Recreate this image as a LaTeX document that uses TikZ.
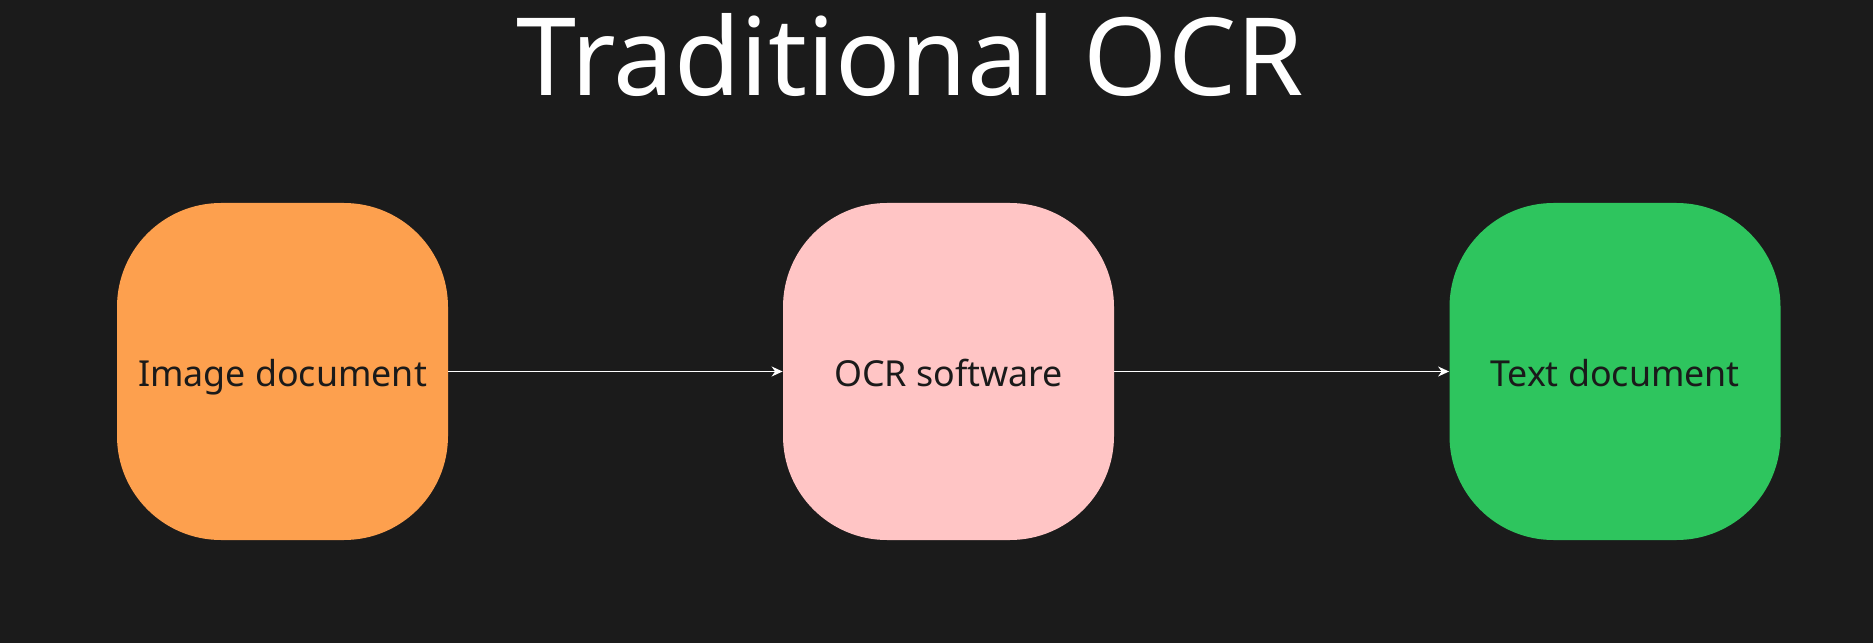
\documentclass[tikz,border=0pt]{standalone}
\usepackage{fontspec}
\setmainfont{Noto Sans}
\usetikzlibrary{arrows.meta}
\definecolor{bg}{HTML}{1B1B1B}
\definecolor{boxorange}{HTML}{FDA04E}
\definecolor{boxpink}{HTML}{FFC5C5}
\definecolor{boxgreen}{HTML}{2EC55E}
\definecolor{ink}{HTML}{1A1A1A}
\begin{document}
\begin{tikzpicture}[x=1pt,y=1pt,
  stagebox/.style={rounded corners=52pt, minimum width=165.5pt, minimum height=168.5pt,
    inner sep=0pt, text=ink, text height=15pt, text depth=0pt,
    font=\fontsize{17.9pt}{21pt}\selectfont},
  flow/.style={draw=white, line width=0.75pt, -{Stealth[length=5.5pt,width=5pt]}}]
\fill[bg] (0,0) rectangle (936.5,321.5);
\useasboundingbox (0,0) rectangle (936.5,321.5);
\node[anchor=base, text=white, font=\fontsize{54pt}{58pt}\selectfont, inner sep=0pt] (title) at (455,273.5) {Traditional OCR};
\node[stagebox, fill=boxorange] (img) at (141.25,135.75) {Image document};
\node[stagebox, fill=boxpink] (ocr) at (474.25,135.75) {OCR software};
\node[stagebox, fill=boxgreen] (txt) at (807.5,135.75) {Text document};
\draw[flow] (img.east) -- (ocr.west);
\draw[flow] (ocr.east) -- (txt.west);
\end{tikzpicture}
\end{document}
